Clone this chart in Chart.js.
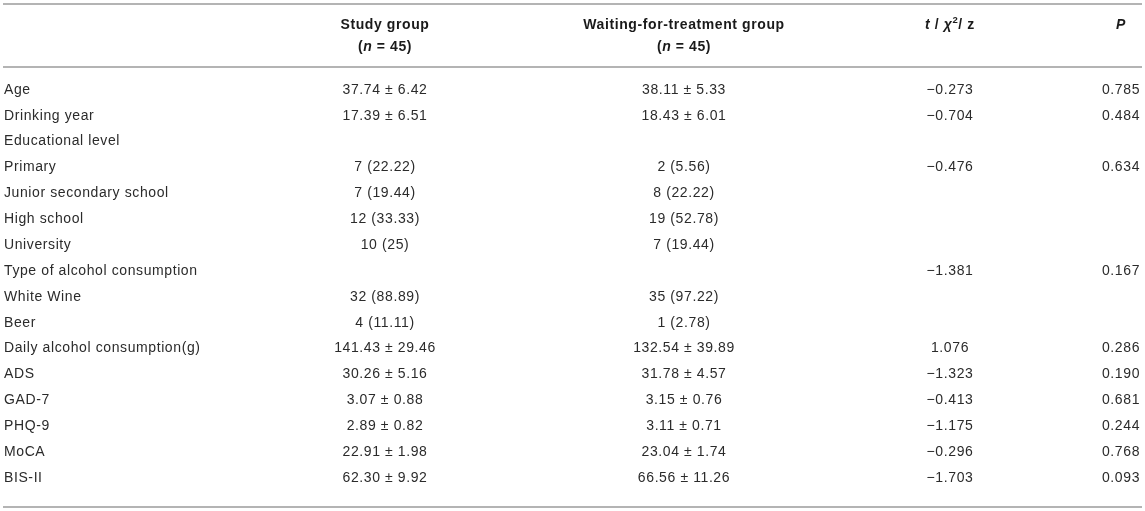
<!DOCTYPE html>
<html>
<head>
<meta charset="utf-8">
<script src="https://cdn.jsdelivr.net/npm/chart.js@4/dist/chart.umd.min.js"></script>
<style>
  html, body { margin: 0; padding: 0; background: #fff; }
  #wrap { width: 1145px; height: 511px; position: relative; }
</style>
</head>
<body>
<div id="wrap"><canvas id="myChart"></canvas></div>
<script>
// table content
var rowLabels = ['Age', 'Drinking year', 'Educational level', 'Primary', 'Junior secondary school',
    'High school', 'University', 'Type of alcohol consumption', 'White Wine', 'Beer',
    'Daily alcohol consumption(g)', 'ADS', 'GAD-7', 'PHQ-9', 'MoCA', 'BIS-II'];
var studyGroup = ['37.74 ± 6.42', '17.39 ± 6.51', '', '7 (22.22)', '7 (19.44)', '12 (33.33)', '10 (25)', '',
    '32 (88.89)', '4 (11.11)', '141.43 ± 29.46', '30.26 ± 5.16', '3.07 ± 0.88', '2.89 ± 0.82',
    '22.91 ± 1.98', '62.30 ± 9.92'];
var waitingGroup = ['38.11 ± 5.33', '18.43 ± 6.01', '', '2 (5.56)', '8 (22.22)', '19 (52.78)', '7 (19.44)', '',
    '35 (97.22)', '1 (2.78)', '132.54 ± 39.89', '31.78 ± 4.57', '3.15 ± 0.76', '3.11 ± 0.71',
    '23.04 ± 1.74', '66.56 ± 11.26'];
var testStat = ['−0.273', '−0.704', '', '−0.476', '', '', '', '−1.381', '', '', '1.076', '−1.323',
    '−0.413', '−1.175', '−0.296', '−1.703'];
var pValue = ['0.785', '0.484', '', '0.634', '', '', '', '0.167', '', '', '0.286', '0.190',
    '0.681', '0.244', '0.768', '0.093'];

// header runs: [text, italic, superscript]
var headStudy = [[['Study group']], [['('], ['n', true], [' = 45)']]];
var headWaiting = [[['Waiting-for-treatment group']], [['('], ['n', true], [' = 45)']]];
var headStat = [[['t', true], [' / '], ['χ', true], ['2', false, true], ['/ z']]];
var headP = [[['P', true]]];

// layout (x axis is in page units, one per pixel)
var labelX = 4;
var colX = [385, 684, 950, 1121];

var BODY_FONT = '"Liberation Sans", Arial, sans-serif';

function columnSet(texts, x, head, align) {
    return {
        data: rowLabels.map(function(r) { return {x: x, y: r}; }),
        cellText: texts,
        head: head,
        align: align,
        pointRadius: 0,
        pointHoverRadius: 0,
        showLine: false
    };
}

function drawRuns(ctx, runs, cx, y) {
    var parts = runs.map(function(r) {
        var size = r[2] ? 9.5 : 14;
        var f = (r[1] ? 'italic ' : '') + 'bold ' + size + 'px ' + BODY_FONT;
        ctx.font = f;
        return {t: r[0], f: f, w: ctx.measureText(r[0]).width, sup: r[2]};
    });
    var total = parts.reduce(function(s, p) { return s + p.w; }, 0);
    var x = cx - total / 2;
    ctx.textAlign = 'left';
    parts.forEach(function(p) {
        ctx.font = p.f;
        ctx.fillText(p.t, x, p.sup ? y - 5.5 : y);
        x += p.w;
    });
}

var tablePlugin = {
    id: 'tableText',
    afterDatasetsDraw: function(chart) {
        var ctx = chart.ctx;
        var area = chart.chartArea;
        ctx.save();
        try { ctx.letterSpacing = '0.6px'; } catch (e) {}
        ctx.textBaseline = 'alphabetic';
        ctx.fillStyle = '#2b2b2b';
        chart.data.datasets.forEach(function(ds, di) {
            var meta = chart.getDatasetMeta(di);
            ctx.font = '14px ' + BODY_FONT;
            ctx.textAlign = ds.align;
            meta.data.forEach(function(pt, i) {
                var t = ds.cellText[i];
                if (t) ctx.fillText(t, pt.x, pt.y + 5);
            });
        });
        // header
        ctx.fillStyle = '#1a1a1a';
        chart.data.datasets.forEach(function(ds, di) {
            if (!ds.head) return;
            var x = chart.getDatasetMeta(di).data[0].x;
            ds.head.forEach(function(line, li) {
                drawRuns(ctx, line, x, area.top - 60.2 + li * 22.4);
            });
        });
        // rules
        ctx.strokeStyle = '#b4b4b4';
        ctx.lineWidth = 2;
        [area.top - 84.7, area.top - 21.7, area.bottom + 30.3].forEach(function(y) {
            ctx.beginPath();
            ctx.moveTo(3, y);
            ctx.lineTo(1142, y);
            ctx.stroke();
        });
        ctx.restore();
    }
};

var ctx = document.getElementById('myChart').getContext('2d');
var myChart = new Chart(ctx, {
    type: 'scatter',
    data: {
        labels: rowLabels,
        datasets: [
            columnSet(rowLabels, labelX, null, 'left'),
            columnSet(studyGroup, colX[0], headStudy, 'center'),
            columnSet(waitingGroup, colX[1], headWaiting, 'center'),
            columnSet(testStat, colX[2], headStat, 'center'),
            columnSet(pValue, colX[3], headP, 'center')
        ]
    },
    options: {
        responsive: true,
        maintainAspectRatio: false,
        animation: false,
        events: [],
        layout: { padding: { top: 88.7, bottom: 34.3, left: 0, right: 0 } },
        plugins: { legend: { display: false }, tooltip: { enabled: false } },
        scales: {
            x: { type: 'linear', min: 0, max: 1145, display: false },
            y: { type: 'category', labels: rowLabels, offset: false, display: false }
        }
    },
    plugins: [tablePlugin]
});
</script>
</body>
</html>
